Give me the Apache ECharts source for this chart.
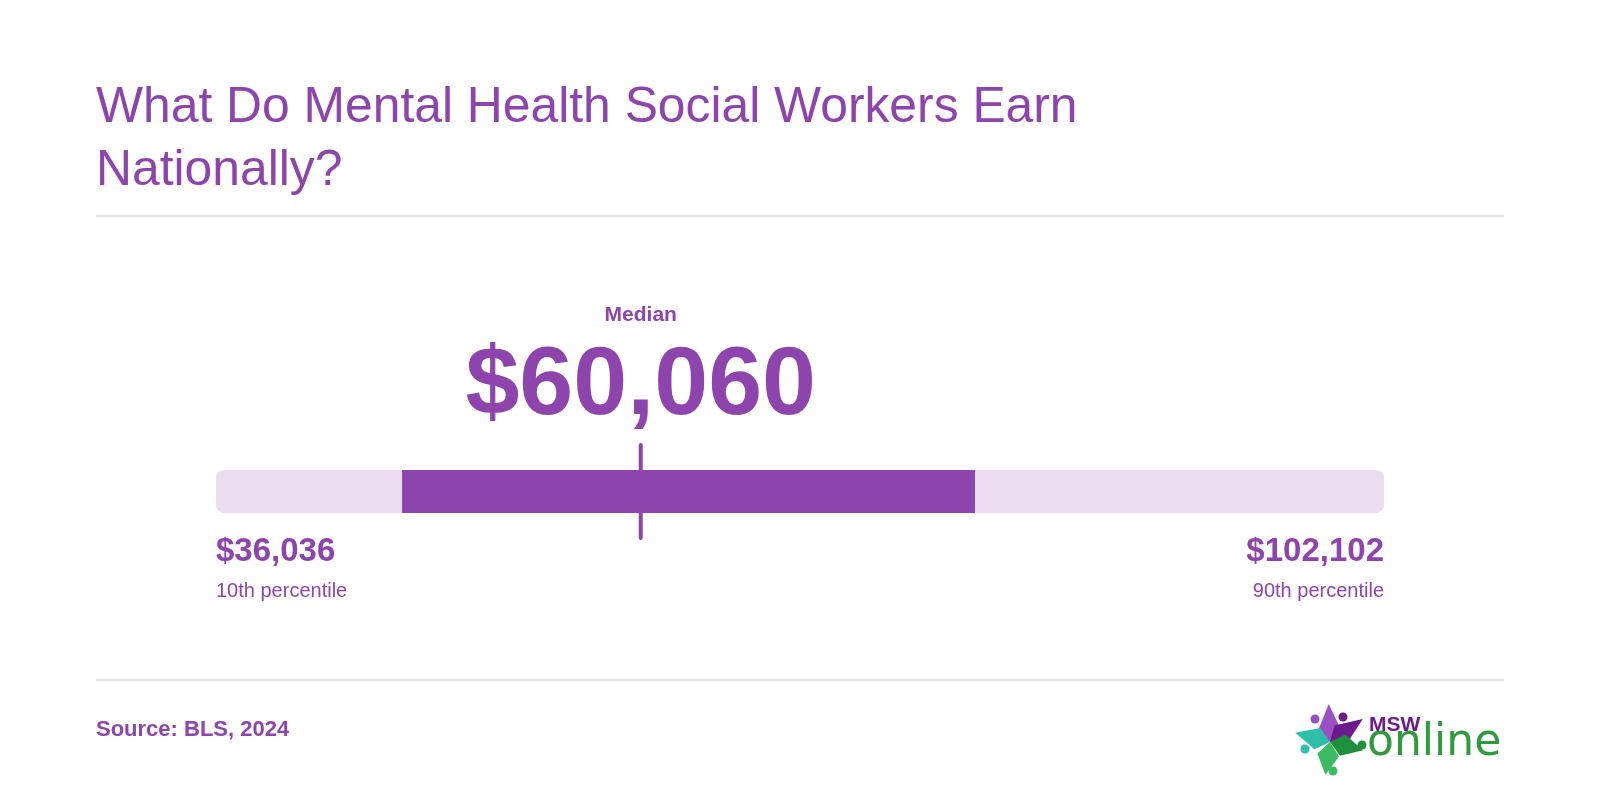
<!DOCTYPE html>
<html>
<head>
<meta charset="utf-8">
<script src="https://cdn.jsdelivr.net/npm/echarts@6/dist/echarts.min.js"></script>
<style>
  html, body { margin: 0; padding: 0; background: #ffffff; }
  #chart { width: 1600px; height: 800px; }
</style>
</head>
<body>
<div id="chart"></div>
<script>
// ---- data ----
const categories = ['Annual wage'];
const percentileLabels = ['10th percentile', '90th percentile'];
const rangeValues = [36036, 102102];      // 10th and 90th percentile
const midRangeValues = [46560, 78970];    // dark band
const medianValues = [60060];
const medianLabels = ['Median'];
const titleText = 'What Do Mental Health Social Workers Earn\nNationally?';
const sourceText = 'Source: BLS, 2024';

// ---- style ----
const PURPLE = '#8E44AD';
const LIGHT = '#EBDCF0';
const RULE = '#EADCF1';
const FONT = '"Liberation Sans", Arial, Helvetica, sans-serif';
const fmt = v => '$' + v.toLocaleString('en-US');

const chart = echarts.init(document.getElementById('chart'), null, { renderer: 'canvas' });

// logo star pieces (decoration only)
function logoElements() {
  const cx = 1330, cy = 742;
  const rad = d => d * Math.PI / 180;
  const arms = [
    { a: -92, R: 38, color: '#9B4FC2', head: [1315, 719] },
    { a: -35, R: 40, color: '#6E1A8F', head: [1343, 717] },
    { a: 14,  R: 34, color: '#1E8F3A', head: [1362, 745] },
    { a: 98,  R: 33, color: '#3DBB62', head: [1333, 771] },
    { a: 195, R: 36, color: '#2DBFA8', head: [1305, 749] }
  ];
  const els = [];
  arms.forEach(arm => {
    const tip = [cx + arm.R * Math.cos(rad(arm.a)), cy + arm.R * Math.sin(rad(arm.a))];
    const r = 17;
    const p1 = [cx + r * Math.cos(rad(arm.a - 40)), cy + r * Math.sin(rad(arm.a - 40))];
    const p2 = [cx + r * Math.cos(rad(arm.a + 40)), cy + r * Math.sin(rad(arm.a + 40))];
    els.push({ type: 'polygon', shape: { points: [[cx, cy], p1, tip, p2] }, style: { fill: arm.color } });
    els.push({ type: 'circle', shape: { cx: arm.head[0], cy: arm.head[1], r: 4.5 }, style: { fill: arm.color } });
  });
  els.push({ type: 'text', x: 1369, y: 725, style: { text: 'MSW', fill: '#6E1A8F', font: 'bold 21px ' + FONT, verticalAlign: 'middle', align: 'left' } });
  els.push({ type: 'text', x: 1367, y: 744, style: { text: 'online', fill: '#2E9B3E', font: '44px "DejaVu Sans", sans-serif', verticalAlign: 'middle', align: 'left' } });
  return els;
}

const option = {
  backgroundColor: '#ffffff',
  animation: false,
  title: {
    text: titleText,
    left: 96,
    top: 77,
    padding: 0,
    textStyle: { color: PURPLE, fontSize: 49.8, fontWeight: 'normal', lineHeight: 63, fontFamily: FONT }
  },
  grid: { left: 216, right: 216, top: 470, height: 43 },
  xAxis: { type: 'value', min: rangeValues[0], max: rangeValues[1], show: false },
  yAxis: { type: 'category', data: categories, show: false },
  graphic: [
    { type: 'rect', shape: { x: 96, y: 215, width: 1408, height: 2 }, style: { fill: RULE } },
    { type: 'rect', shape: { x: 96, y: 679, width: 1408, height: 2 }, style: { fill: RULE } },
    { type: 'text', x: 96, y: 730, style: { text: sourceText, fill: PURPLE, font: 'bold 22px ' + FONT, verticalAlign: 'middle' } },
    { type: 'group', children: logoElements() }
  ],
  series: [
    {
      type: 'custom',
      clip: false,
      z: 1,
      data: [[rangeValues[0], rangeValues[1], 0]],
      renderItem: (params, api) => {
        const s = api.coord([api.value(0), api.value(2)]);
        const e = api.coord([api.value(1), api.value(2)]);
        const h = api.size([0, 1])[1];
        const top = s[1] - h / 2, bottom = s[1] + h / 2;
        return {
          type: 'group',
          children: [
            { type: 'rect', shape: { x: s[0], y: top, width: e[0] - s[0], height: h, r: 8 }, style: { fill: LIGHT } },
            { type: 'text', x: s[0], y: bottom + 39, style: { text: fmt(api.value(0)), fill: PURPLE, font: 'bold 33px ' + FONT, align: 'left', verticalAlign: 'middle' } },
            { type: 'text', x: s[0], y: bottom + 78, style: { text: percentileLabels[0], fill: PURPLE, font: '20px ' + FONT, align: 'left', verticalAlign: 'middle' } },
            { type: 'text', x: e[0], y: bottom + 39, style: { text: fmt(api.value(1)), fill: PURPLE, font: 'bold 33px ' + FONT, align: 'right', verticalAlign: 'middle' } },
            { type: 'text', x: e[0], y: bottom + 78, style: { text: percentileLabels[1], fill: PURPLE, font: '20px ' + FONT, align: 'right', verticalAlign: 'middle' } }
          ]
        };
      }
    },
    {
      type: 'custom',
      clip: false,
      z: 2,
      data: [[midRangeValues[0], midRangeValues[1], 0]],
      renderItem: (params, api) => {
        const s = api.coord([api.value(0), api.value(2)]);
        const e = api.coord([api.value(1), api.value(2)]);
        const h = api.size([0, 1])[1];
        return { type: 'rect', shape: { x: s[0], y: s[1] - h / 2, width: e[0] - s[0], height: h }, style: { fill: PURPLE } };
      }
    },
    {
      type: 'custom',
      clip: false,
      z: 3,
      data: [[medianValues[0], 0]],
      renderItem: (params, api) => {
        const m = api.coord([api.value(0), api.value(1)]);
        const h = api.size([0, 1])[1];
        const top = m[1] - h / 2, bottom = m[1] + h / 2;
        return {
          type: 'group',
          children: [
            { type: 'line', shape: { x1: m[0], y1: top - 25, x2: m[0], y2: bottom + 25 }, style: { stroke: PURPLE, lineWidth: 4, lineCap: 'round' } },
            { type: 'text', x: m[0], y: top - 83, style: { text: fmt(api.value(0)), fill: PURPLE, font: 'bold 97px ' + FONT, align: 'center', verticalAlign: 'middle' } },
            { type: 'text', x: m[0], y: top - 155, style: { text: medianLabels[0], fill: PURPLE, font: 'bold 21px ' + FONT, align: 'center', verticalAlign: 'middle' } }
          ]
        };
      }
    }
  ]
};
chart.setOption(option);
</script>
</body>
</html>
